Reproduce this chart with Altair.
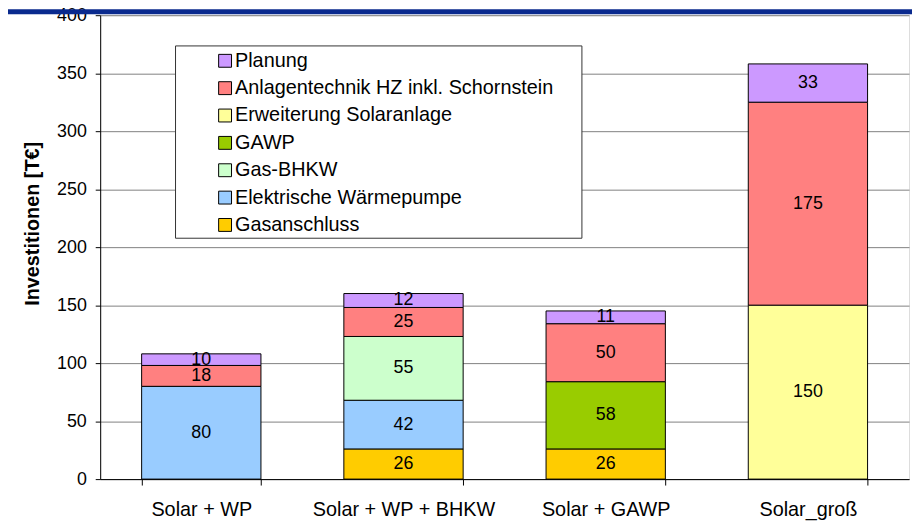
import altair as alt
import pandas as pd

categories = ["Solar + WP", "Solar + WP + BHKW", "Solar + GAWP", "Solar_groß"]

# series from bottom of the stack to the top
series_names = [
    "Gasanschluss",
    "Elektrische Wärmepumpe",
    "Gas-BHKW",
    "GAWP",
    "Erweiterung Solaranlage",
    "Anlagentechnik HZ inkl. Schornstein",
    "Planung",
]
gasanschluss = [0, 26, 26, 0]
elektrische_wp = [80, 42, 0, 0]
gas_bhkw = [0, 55, 0, 0]
gawp = [0, 0, 58, 0]
erweiterung_solar = [0, 0, 0, 150]
anlagentechnik = [18, 25, 50, 175]
planung = [10, 12, 11, 33]

series_colors = ["#FFCC00", "#99CCFF", "#CCFFCC", "#99CC00", "#FFFF99", "#FF8080", "#CC99FF"]
y_ticks = [0, 50, 100, 150, 200, 250, 300, 350, 400]

values = [gasanschluss, elektrische_wp, gas_bhkw, gawp, erweiterung_solar, anlagentechnik, planung]
rows = []
for i, (name, vals) in enumerate(zip(series_names, values)):
    for cat, v in zip(categories, vals):
        if v > 0:
            rows.append({"cat": cat, "series": name, "value": v, "ord": i})
df = pd.DataFrame(rows)

legend_order = list(reversed(series_names))
legend_colors = list(reversed(series_colors))

FONT = "Liberation Sans"

x_enc = alt.X(
    "cat:N",
    sort=categories,
    scale=alt.Scale(paddingInner=0.41, paddingOuter=0.205),
    axis=alt.Axis(
        title=None,
        labelAngle=0,
        labelFontSize=20,
        labelColor="black",
        labelFont=FONT,
        labelLimit=400,
        tickBand="extent",
        tickSize=6,
        tickColor="black",
        domainColor="black",
        labelPadding=15,
        grid=False,
    ),
)

base = alt.Chart(df)

bars = base.mark_bar(stroke="black", strokeWidth=1).encode(
    x=x_enc,
    y=alt.Y(
        "value:Q",
        stack="zero",
        scale=alt.Scale(domain=[0, 400], nice=False),
        axis=alt.Axis(
            title="Investitionen [T€]",
            titleFontSize=20,
            titleFontWeight="bold",
            titleFont=FONT,
            titleColor="black",
            titleAngle=270,
            titleX=-62,
            titleY=210,
            titleAlign="center",
            titleBaseline="alphabetic",
            values=y_ticks,
            labelFontSize=18,
            labelFont=FONT,
            labelColor="black",
            tickSize=5,
            tickColor="black",
            labelPadding=9,
            domainColor="black",
            grid=True,
            gridColor="#808080",
            gridWidth=1,
        ),
    ),
    color=alt.Color(
        "series:N",
        scale=alt.Scale(domain=legend_order, range=legend_colors),
        legend=alt.Legend(
            title=None,
            orient="none",
            legendX=116,
            legendY=36,
            padding=0,
            symbolType="square",
            symbolSize=169,
            symbolStrokeColor="black",
            symbolStrokeWidth=1,
            symbolOpacity=1,
            labelFontSize=20,
            labelFont=FONT,
            labelColor="black",
            labelOffset=0,
            labelLimit=500,
            rowPadding=7.6,
        ),
    ),
    order=alt.Order("ord:Q", sort="ascending"),
)

labels = (
    base.transform_stack(
        stack="value",
        groupby=["cat"],
        sort=[alt.SortField("ord", order="ascending")],
        as_=["y0", "y1"],
    )
    .transform_calculate(mid="(datum.y0 + datum.y1) / 2")
    .mark_text(fontSize=18, font=FONT, color="black", baseline="middle", align="center")
    .encode(
        x=alt.X("cat:N", sort=categories),
        y=alt.Y("mid:Q"),
        text=alt.Text("value:Q"),
    )
)

frame = (
    alt.Chart(pd.DataFrame({"a": [0]}))
    .mark_rect(fill="white", stroke="#333333", strokeWidth=1)
    .encode(x=alt.value(76), x2=alt.value(486), y=alt.value(31), y2=alt.value(225))
)

header = (
    alt.Chart(pd.DataFrame({"a": [0]}))
    .mark_rect(fill="#0A2A8E", stroke=None)
    .encode(x=alt.value(-101), x2=alt.value(819), y=alt.value(-6), y2=alt.value(-1))
)

chart = (
    alt.layer(bars, labels, frame, header)
    .properties(
        width=816,
        height=468,
        autosize=alt.AutoSizeParams(type="none"),
        padding={"left": 93, "top": 5, "right": 3, "bottom": 40},
    )
    .configure_view(stroke="#808080", strokeWidth=1)
    .configure(font=FONT)
)

chart.save("out.html", embed_options={"renderer": "svg", "actions": False})
